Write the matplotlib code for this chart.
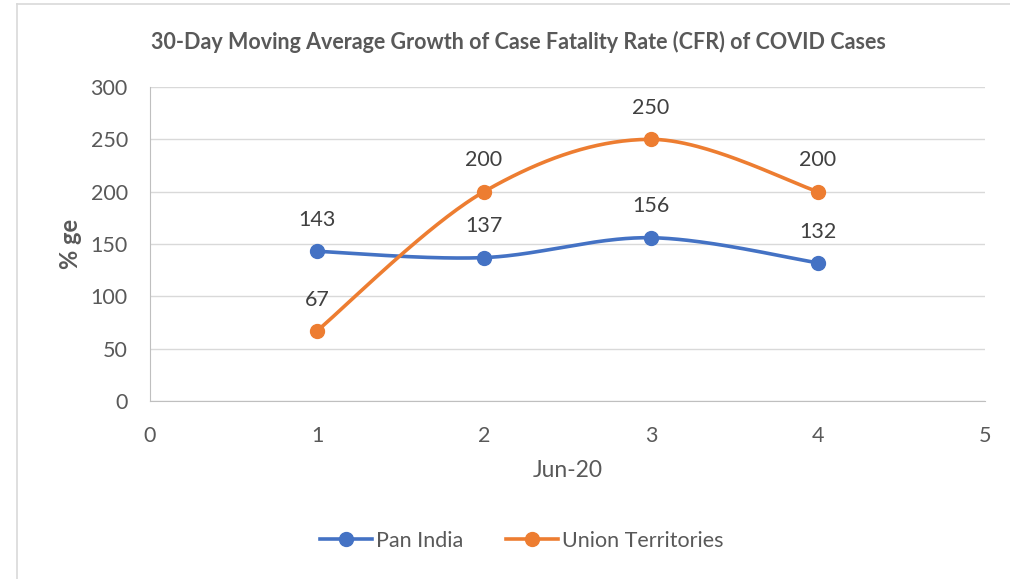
import numpy as np
import matplotlib
matplotlib.use("Agg")
import matplotlib.pyplot as plt
from matplotlib.lines import Line2D

x_vals = [1, 2, 3, 4]
pan_india = [143, 137, 156, 132]
union_territories = [67, 200, 250, 200]
series_names = ["Pan India", "Union Territories"]
title = "30-Day Moving Average Growth of Case Fatality Rate (CFR) of COVID Cases"
xlabel = "Jun-20"
ylabel = "% ge"
yticks = [0, 50, 100, 150, 200, 250, 300]
xticks = [0, 1, 2, 3, 4, 5]

BLUE = "#4472C4"
ORANGE = "#ED7D31"
TXT = "#595959"
GRID = "#D9D9D9"

plt.rcParams['font.family'] = ['Lato', 'DejaVu Sans']


def smooth(xs, ys, n=60):
    # Excel-like smoothing: cubic Bezier segments with Catmull-Rom control points
    xs = np.asarray(xs, float)
    ys = np.asarray(ys, float)
    pts = np.column_stack([xs, ys])
    out = []
    t_factor = 1.0 / 6.0
    for i in range(len(pts) - 1):
        p0 = pts[i - 1] if i > 0 else pts[i]
        p1 = pts[i]
        p2 = pts[i + 1]
        p3 = pts[i + 2] if i + 2 < len(pts) else pts[i + 1]
        c1 = p1 + (p2 - p0) * t_factor
        c2 = p2 - (p3 - p1) * t_factor
        t = np.linspace(0, 1, n)[:, None]
        seg = ((1 - t) ** 3) * p1 + 3 * ((1 - t) ** 2) * t * c1 + 3 * (1 - t) * t ** 2 * c2 + t ** 3 * p2
        out.append(seg if i == 0 else seg[1:])
    arr = np.vstack(out)
    return arr[:, 0], arr[:, 1]


fig = plt.figure(figsize=(10.10, 5.79), dpi=100)
# outer frame lines (top and left)
fig.add_artist(Line2D([17 / 1010, 1.0], [1 - 4 / 579, 1 - 4 / 579], color="#D9D9D9", lw=1.2))
fig.add_artist(Line2D([17 / 1010, 17 / 1010], [0, 1 - 4 / 579], color="#D9D9D9", lw=1.2))

ax = fig.add_axes([150 / 1010, (579 - 401) / 579, (985 - 150) / 1010, (401 - 87) / 579])
ax.set_xlim(0, 5)
ax.set_ylim(0, 300)
ax.set_yticks(yticks)
ax.set_xticks(xticks)
ax.grid(axis='y', color=GRID, lw=1.0)
ax.set_axisbelow(True)
for s in ['top', 'right']:
    ax.spines[s].set_visible(False)
ax.spines['left'].set_color("#BFBFBF")
ax.spines['bottom'].set_color("#BFBFBF")
ax.tick_params(length=0, labelsize=15.5, colors=TXT)
ax.tick_params(axis='y', pad=16)
ax.tick_params(axis='x', pad=18)

for ys, col, name in [(pan_india, BLUE, series_names[0]), (union_territories, ORANGE, series_names[1])]:
    sx, sy = smooth(x_vals, ys)
    ax.plot(sx, sy, color=col, lw=2.6, solid_capstyle='round', clip_on=False)
    ax.plot(x_vals, ys, 'o', color=col, ms=10, clip_on=False, zorder=5)
    for xv, yv in zip(x_vals, ys):
        ax.annotate(str(yv), (xv, yv), xytext=(0, 22.5), textcoords='offset points',
                    ha='center', va='center', fontsize=15.5, color="#404040")

fig.text(518 / 1010, 1 - 42 / 579, title, ha='center', va='center', fontsize=15.5,
         fontweight='bold', color=TXT)
ax.set_xlabel(xlabel, fontsize=16.5, color=TXT, labelpad=10)
ax.set_ylabel(ylabel, fontsize=17, color=TXT, fontweight='bold', labelpad=6)

handles = [Line2D([0], [0], color=BLUE, lw=2.6, marker='o', ms=10),
           Line2D([0], [0], color=ORANGE, lw=2.6, marker='o', ms=10)]
fig.legend(handles, series_names, loc='center', bbox_to_anchor=(522 / 1010, 1 - 541 / 579),
           ncol=2, frameon=False, fontsize=15.5, labelcolor=TXT, handlelength=2.4,
           handletextpad=0.2, columnspacing=2.0)

fig.savefig("out.png", dpi=100, facecolor="white")
